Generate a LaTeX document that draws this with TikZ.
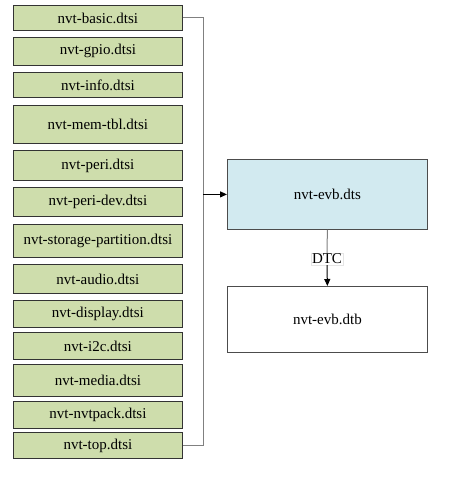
\documentclass[tikz,border=0pt]{standalone}
\usepackage{fontspec}
\setmainfont{Liberation Serif}
\usetikzlibrary{arrows.meta}
\definecolor{greenfill}{RGB}{206,221,172}
\definecolor{bluefill}{RGB}{210,234,240}
\definecolor{linegray}{RGB}{128,128,128}
\begin{document}
\begin{tikzpicture}[x=1pt,y=-1pt,
  dtsi/.style={draw=black!80,line width=0.8pt,fill=greenfill,font=\fontsize{15}{17}\selectfont},
  bigbox/.style={draw=black!70,line width=0.8pt,font=\fontsize{15}{17}\selectfont},
  conn/.style={draw=linegray,line width=1pt},
  tip/.style={-{Triangle[length=7pt,width=6pt]}}]
\useasboundingbox (0,0) rectangle (470,480);
\def\bx#1#2#3#4{\node[dtsi,minimum width=169pt,minimum height=#3-#2 pt,inner sep=0pt,anchor=north west] (#1) at (13,#2) {#4};}
\bx{b1}{5}{30}{nvt-basic.dtsi}
\bx{b2}{37}{65}{nvt-gpio.dtsi}
\bx{b3}{72}{97}{nvt-info.dtsi}
\bx{b4}{105}{143}{nvt-mem-tbl.dtsi}
\bx{b5}{150}{180}{nvt-peri.dtsi}
\bx{b6}{187}{216}{nvt-peri-dev.dtsi}
\bx{b7}{224}{257}{nvt-storage-partition.dtsi}
\bx{b8}{264}{293}{nvt-audio.dtsi}
\bx{b9}{300}{327}{nvt-display.dtsi}
\bx{b10}{332}{359}{nvt-i2c.dtsi}
\bx{b11}{364}{396}{nvt-media.dtsi}
\bx{b12}{401}{428}{nvt-nvtpack.dtsi}
\bx{b13}{432}{458}{nvt-top.dtsi}
\node[bigbox,fill=bluefill,minimum width=200pt,minimum height=70pt,inner sep=0pt,anchor=north west] (dts) at (227,159) {nvt-evb.dts};
\node[bigbox,fill=white,minimum width=200pt,minimum height=66pt,inner sep=0pt,anchor=north west] (dtb) at (227,286) {nvt-evb.dtb};
\coordinate (vt) at (203,0 |- b1.east);
\coordinate (vb) at (203,0 |- b13.east);
\coordinate (vm) at (203,0 |- dts.west);
\draw[conn] (b1.east) -- (vt) -- (vb) -- (b13.east);
\draw[line width=1pt,tip] (vm) -- (dts.west);
\node[fill=white,draw=black!10,inner sep=1pt,font=\fontsize{15}{17}\selectfont] (dtc) at (327,259) {DTC};
\draw[conn] (dts.south) -- (dtc.north);
\draw[line width=1pt,tip] (dtc.south) -- (dtb.north);
\end{tikzpicture}
\end{document}
